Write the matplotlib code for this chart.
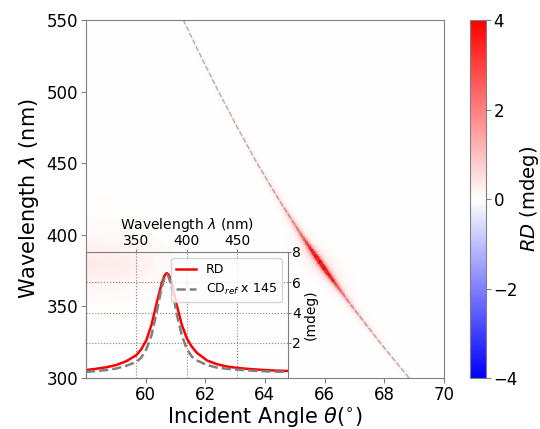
import numpy as np
import matplotlib.pyplot as plt

# dispersion curve of the resonance (angle vs wavelength)
disp_wl = [300, 325, 350, 375, 400, 425, 450, 475, 500, 525, 550]
disp_ang = [68.83, 67.85, 66.92, 66.04, 65.22, 64.46, 63.74, 63.08, 62.45, 61.85, 61.27]

# RD spectrum at the resonance (inset, mdeg)
rd_wl = [300, 310, 320, 330, 340, 350, 355, 360, 365, 370, 375, 378, 380, 382,
         385, 390, 395, 400, 405, 410, 420, 430, 440, 450, 460, 470, 480, 490, 500]
rd_val = [0.22, 0.3, 0.4, 0.55, 0.8, 1.2, 1.6, 2.2, 3.2, 4.6, 5.9, 6.45, 6.6, 6.5,
          6.0, 4.5, 3.2, 2.3, 1.75, 1.35, 0.85, 0.6, 0.45, 0.36, 0.3, 0.25, 0.21, 0.18, 0.16]
cd_val = [0.1, 0.15, 0.22, 0.32, 0.5, 0.75, 1.05, 1.6, 2.5, 4.0, 5.6, 6.3, 6.5, 6.35,
          5.7, 3.9, 2.5, 1.6, 1.1, 0.85, 0.55, 0.38, 0.3, 0.25, 0.2, 0.16, 0.13, 0.11, 0.1]

# faint background band at small angles (fraction of RD)
band_ang = [58, 59, 60, 61, 62]
band_amp = [0.05, 0.045, 0.03, 0.01, 0.0]
spot_width = 0.07  # deg

# map
ang = np.linspace(58, 70, 1200)
wl = np.linspace(300, 550, 500)
A, W = np.meshgrid(ang, wl)
rd_map = np.interp(W, rd_wl, rd_val)
ang_c = np.interp(W, disp_wl, disp_ang)
Z = rd_map * (1 / (1 + ((A - ang_c) / spot_width) ** 2) + np.interp(A, band_ang, band_amp))

fig = plt.figure(figsize=(5.4, 4.29), dpi=100)
ax = fig.add_axes([0.159, 0.119, 0.663, 0.834])
im = ax.pcolormesh(ang, wl, Z, cmap='bwr', vmin=-4, vmax=4, shading='auto', rasterized=True)
ax.plot(disp_ang, disp_wl, ls='--', color='gray', lw=1, alpha=0.6)
ax.set_xlim(58, 70)
ax.set_ylim(300, 550)
ax.set_xticks([60, 62, 64, 66, 68, 70])
ax.set_yticks([300, 350, 400, 450, 500, 550])
ax.tick_params(labelsize=12, color='gray', pad=2)
for s in ax.spines.values():
    s.set_color('gray')
ax.set_xlabel(r'Incident Angle $\theta$($^{\circ}$)', fontsize=15, labelpad=1)
ax.set_ylabel(r'Wavelength $\lambda$ (nm)', fontsize=15, labelpad=4)

cax = fig.add_axes([0.870, 0.119, 0.030, 0.834])
cb = fig.colorbar(im, cax=cax)
cb.set_ticks([-4, -2, 0, 2, 4])
cb.ax.tick_params(labelsize=12, color='gray', pad=2)
cb.outline.set_edgecolor('gray')
cb.set_label(r'$RD$ (mdeg)', fontsize=14, labelpad=0)

# inset
axi = fig.add_axes([0.159, 0.119, 0.374, 0.294])
axi.patch.set_alpha(0)
axi.plot(rd_wl, rd_val, color='red', lw=1.8, label='RD')
axi.plot(rd_wl, cd_val, color='gray', ls='--', lw=1.8, label=r'CD$_{ref}$ x 145')
axi.set_xlim(300, 500)
axi.set_ylim(-0.3, 8)
axi.xaxis.tick_top()
axi.xaxis.set_label_position('top')
axi.yaxis.tick_right()
axi.yaxis.set_label_position('right')
axi.set_xticks([350, 400, 450])
axi.set_yticks([2, 4, 6, 8])
axi.tick_params(labelsize=10, color='gray', pad=1, length=2)
axi.set_xlabel(r'Wavelength $\lambda$ (nm)', fontsize=10, labelpad=3)
axi.set_ylabel('(mdeg)', fontsize=10, labelpad=2)
axi.grid(True, ls=':', color='gray')
for s in axi.spines.values():
    s.set_color('gray')
axi.legend(loc='upper right', fontsize=9, handlelength=1.6)

fig.savefig('out.png', dpi=100)
